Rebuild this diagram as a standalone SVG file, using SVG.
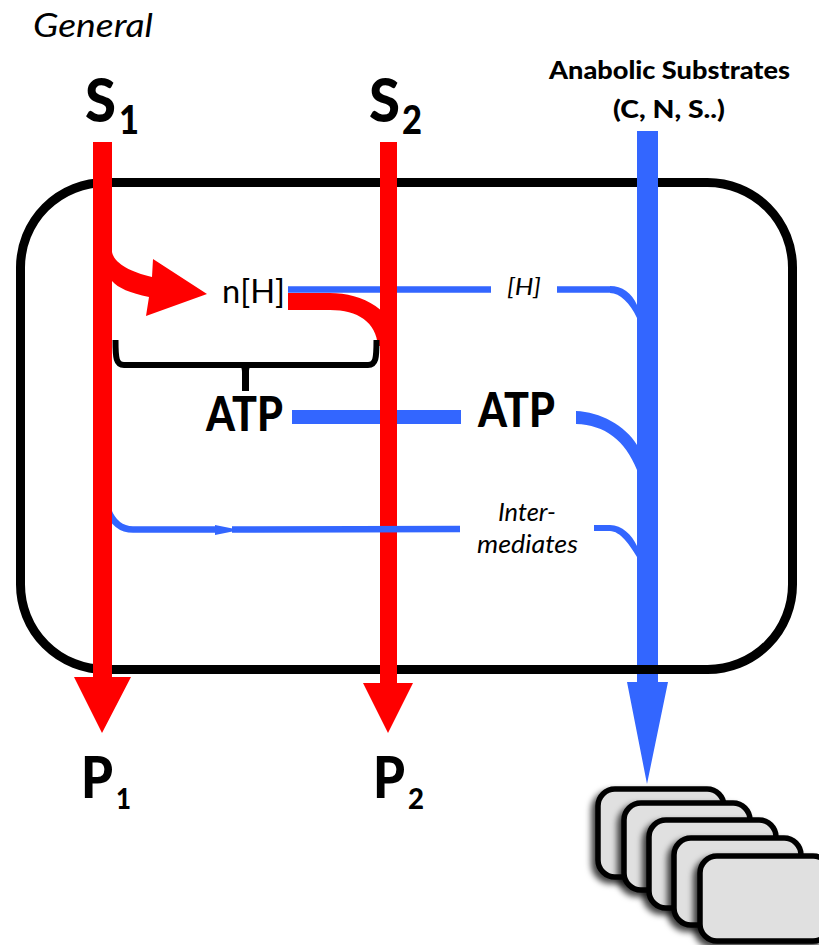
<svg xmlns="http://www.w3.org/2000/svg" width="819" height="945" viewBox="0 0 819 945">
<style>
.t{font-family:"Lato","Open Sans","Liberation Sans",sans-serif;fill:#000}
.b{font-weight:900}
.i{font-style:italic}
.blue{fill:none;stroke:#3366ff}
.bf{fill:#3366ff}
.card{fill:#e0e0e0;stroke:#000;stroke-width:5.5;filter:url(#sh)}
</style>
<defs>
<filter id="sh" x="-20%" y="-20%" width="140%" height="140%"><feDropShadow dx="-4" dy="4" stdDeviation="3" flood-color="#000" flood-opacity=".75"/></filter>
</defs>
<rect x="0" y="0" width="819" height="945" fill="#fff"/>
<g id="cell"><rect x="20.500" y="182.500" width="772" height="487" rx="85" ry="85" fill="none" stroke="#000" stroke-width="9"/></g>
<g id="connectors">
<path class="blue" d="M288 289.500H491M557 289.500H610" stroke-width="6.500"/>
<path class="bf" d="M610 286C622 286 632 293 637 305V318C630 303 620 293 610 293Z"/>
<path class="blue" d="M292 417H461" stroke-width="14"/>
<path d="M380 142H397V683H413L388 733L363 683H380Z" fill="#f00"/>
<path d="M288 293H330C362 293 397 310 397 346H378C376 322 358 310 330 310H288Z" fill="#f00"/>
<path class="blue" d="M108 510C113 523 121 529.500 133 529.500H215M232 529.500L460 529" stroke-width="6.500"/>
<path class="bf" d="M215 525L240 530L215 535Z"/>
<path d="M93 142H112V252C114 263 130 272 152 277L153 259L207 294L146 316L149 297C130 293 118 288 112 281V677H131L102 733L74 677H93Z" fill="#f00"/>
<path class="bf" d="M637 131H658V682H668L647 784L627 682H637Z"/>
<path d="M630 669.500H665" fill="none" stroke="#000" stroke-width="9"/>
<path class="bf" d="M576 411C600 412 625 425 637 445V470C625 440 605 425 576 424Z"/>
<path class="bf" d="M594 525H610C622 525 632 535 637 546V557C630 545 620 531 610 531H594Z"/>
<path d="M115.500 340C115.500 358 116 365 124 365H368C376 365 376.500 358 376.500 340" fill="none" stroke="#000" stroke-width="6"/>
<path d="M242 391H249V372C249 367 251 365 254 363H237C240 365 242 367 242 372Z" fill="#000"/>
</g>
<g id="n-general"><text class="t i" x="33" y="37" font-size="33" textLength="120" lengthAdjust="spacingAndGlyphs">General</text></g>
<g id="n-s1"><text class="t b" x="85" y="122" font-size="60" textLength="31" lengthAdjust="spacingAndGlyphs">S</text><text class="t b" x="119" y="134" font-size="39" textLength="20" lengthAdjust="spacingAndGlyphs">1</text></g>
<g id="n-s2"><text class="t b" x="369" y="122" font-size="60" textLength="31" lengthAdjust="spacingAndGlyphs">S</text><text class="t b" x="402" y="134" font-size="39" textLength="20" lengthAdjust="spacingAndGlyphs">2</text></g>
<g id="n-substrates"><text class="t b" x="549" y="79" font-size="25" textLength="241" lengthAdjust="spacingAndGlyphs">Anabolic Substrates</text><text class="t b" x="613" y="118" font-size="25" textLength="112" lengthAdjust="spacingAndGlyphs">(C, N, S..)</text></g>
<g id="n-nh"><text class="t" x="222" y="303" font-size="32" textLength="63" lengthAdjust="spacingAndGlyphs">n[H]</text></g>
<g id="n-h"><text class="t i" x="507" y="295" font-size="24" textLength="34" lengthAdjust="spacingAndGlyphs">[H]</text></g>
<g id="n-atp1"><text class="t b" x="206" y="431" font-size="47" textLength="77" lengthAdjust="spacingAndGlyphs">ATP</text></g>
<g id="n-atp2"><text class="t b" x="478" y="427" font-size="47" textLength="77" lengthAdjust="spacingAndGlyphs">ATP</text></g>
<g id="n-inter"><text class="t i" x="498" y="521" font-size="25" textLength="58" lengthAdjust="spacingAndGlyphs">Inter-</text><text class="t i" x="477" y="553" font-size="25" textLength="101" lengthAdjust="spacingAndGlyphs">mediates</text></g>
<g id="n-p1"><text class="t b" x="81" y="798" font-size="57" textLength="32" lengthAdjust="spacingAndGlyphs">P</text><text class="t b" x="116" y="809" font-size="28" textLength="15" lengthAdjust="spacingAndGlyphs">1</text></g>
<g id="n-p2"><text class="t b" x="373" y="798" font-size="57" textLength="32" lengthAdjust="spacingAndGlyphs">P</text><text class="t b" x="408" y="809" font-size="28" textLength="16" lengthAdjust="spacingAndGlyphs">2</text></g>
<g id="n-card1"><rect class="card" x="598" y="789" width="126" height="88" rx="17"/></g>
<g id="n-card2"><rect class="card" x="624" y="803" width="126" height="87" rx="17"/></g>
<g id="n-card3"><rect class="card" x="649" y="820" width="127" height="88" rx="17"/></g>
<g id="n-card4"><rect class="card" x="674" y="838" width="127" height="87" rx="17"/></g>
<g id="n-card5"><rect class="card" x="700" y="856" width="130" height="85" rx="17"/></g>
</svg>
